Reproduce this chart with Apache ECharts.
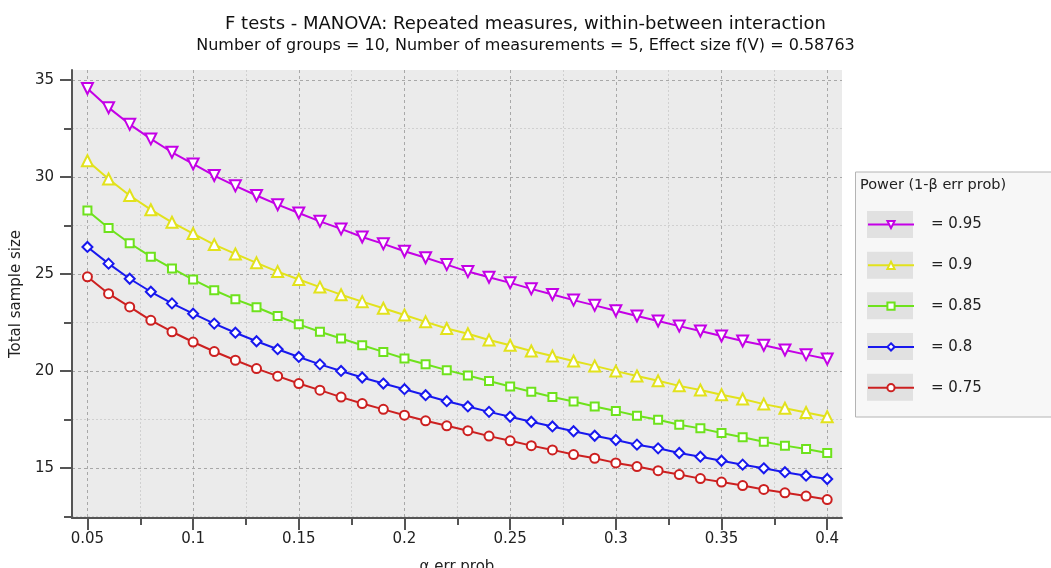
<!DOCTYPE html>
<html>
<head>
<meta charset="utf-8">
<script src="https://cdn.jsdelivr.net/npm/echarts@6/dist/echarts.min.js"></script>
<style>
  html, body { margin: 0; padding: 0; background: #fff; }
  #main { width: 1051px; height: 568px; }
</style>
</head>
<body>
<div id="main"></div>
<script>
// α err prob
var alphas = [0.05, 0.06, 0.07, 0.08, 0.09, 0.10, 0.11, 0.12, 0.13, 0.14, 0.15, 0.16,
  0.17, 0.18, 0.19, 0.20, 0.21, 0.22, 0.23, 0.24, 0.25, 0.26, 0.27, 0.28,
  0.29, 0.30, 0.31, 0.32, 0.33, 0.34, 0.35, 0.36, 0.37, 0.38, 0.39, 0.40];

// Total sample size per power level
var power95 = [34.57, 33.58, 32.72, 31.97, 31.28, 30.68, 30.08, 29.55, 29.05, 28.58, 28.15, 27.72,
  27.33, 26.91, 26.56, 26.18, 25.84, 25.49, 25.13, 24.84, 24.55, 24.24, 23.95, 23.66,
  23.39, 23.11, 22.84, 22.58, 22.32, 22.07, 21.81, 21.55, 21.33, 21.09, 20.85, 20.63];
var power90 = [30.84, 29.90, 29.05, 28.32, 27.67, 27.09, 26.52, 26.04, 25.58, 25.13, 24.72, 24.33,
  23.94, 23.58, 23.24, 22.89, 22.54, 22.20, 21.93, 21.60, 21.33, 21.04, 20.78, 20.52,
  20.27, 20.00, 19.75, 19.50, 19.24, 19.03, 18.78, 18.56, 18.30, 18.09, 17.87, 17.65];
var power85 = [28.28, 27.38, 26.59, 25.90, 25.29, 24.72, 24.17, 23.70, 23.29, 22.84, 22.41, 22.03,
  21.68, 21.33, 20.99, 20.65, 20.35, 20.05, 19.77, 19.49, 19.21, 18.94, 18.67, 18.43,
  18.18, 17.95, 17.70, 17.49, 17.24, 17.05, 16.81, 16.59, 16.36, 16.16, 15.99, 15.78];
var power80 = [26.40, 25.54, 24.76, 24.09, 23.49, 22.96, 22.45, 21.98, 21.54, 21.13, 20.73, 20.35,
  20.01, 19.67, 19.36, 19.07, 18.76, 18.45, 18.18, 17.90, 17.65, 17.39, 17.15, 16.90,
  16.67, 16.45, 16.21, 16.02, 15.78, 15.59, 15.38, 15.18, 14.99, 14.79, 14.61, 14.44];
var power75 = [24.86, 23.99, 23.31, 22.62, 22.03, 21.50, 21.01, 20.56, 20.13, 19.74, 19.36, 19.02,
  18.66, 18.33, 18.03, 17.73, 17.44, 17.18, 16.93, 16.65, 16.41, 16.16, 15.94, 15.70,
  15.51, 15.27, 15.08, 14.87, 14.67, 14.46, 14.28, 14.10, 13.90, 13.73, 13.56, 13.38];

var seriesNames = ['= 0.95', '= 0.9', '= 0.85', '= 0.8', '= 0.75'];
var seriesValues = [power95, power90, power85, power80, power75];

// tick labels
var xMajorTicks = [0.05, 0.1, 0.15, 0.2, 0.25, 0.3, 0.35, 0.4];
var xMinorTicks = [0.075, 0.125, 0.175, 0.225, 0.275, 0.325, 0.375];
var yMajorTicks = [15, 20, 25, 30, 35];
var yMinorTicks = [12.5, 17.5, 22.5, 27.5, 32.5];

var colors = ['#c400e6', '#e2e21c', '#6ee21c', '#1818ee', '#cc2020'];
var symbols = ['emptyTriangle', 'emptyTriangle', 'emptyRect', 'emptyDiamond', 'emptyCircle'];
var symbolSizes = [11, 11, 8, 10, 9];
var symbolRotates = [180, 0, 0, 0, 0];

var FONT = 'DejaVu Sans';

function buildSeries() {
    var s = [];
    for (var i = 0; i < seriesNames.length; i++) {
        var vals = seriesValues[i];
        s.push({
            name: seriesNames[i],
            type: 'line',
            xAxisIndex: 0,
            yAxisIndex: 0,
            data: alphas.map(function (a, k) { return [a, vals[k]]; }),
            symbol: symbols[i],
            symbolSize: symbolSizes[i],
            symbolRotate: symbolRotates[i],
            showAllSymbol: true,
            lineStyle: { color: colors[i], width: 2 },
            itemStyle: { color: colors[i], borderWidth: 2 },
            z: 3 + (seriesNames.length - i)
        });
    }
    return s;
}

var xMin = 0.0427, xMax = 0.407;
var yMin = 12.43, yMax = 35.52;

var axisLabelStyle = { color: '#222', fontSize: 15, fontFamily: FONT };

// legend frame, title and gray boxes behind the legend icons
var legendRowCenters = [224.5, 265.2, 305.8, 346.5, 387.2];
var graphics = [
    {
        type: 'rect', left: 855, top: 171.5, z: 1,
        shape: { width: 220, height: 245 },
        style: { fill: '#f7f7f7', stroke: '#b4b4b4', lineWidth: 1 }
    },
    {
        type: 'text', left: 860, top: 178, z: 2,
        style: { text: 'Power (1-β err prob)', fill: '#222', font: '14.5px ' + FONT }
    }
];
legendRowCenters.forEach(function (c) {
    graphics.push({
        type: 'rect', left: 867, top: c - 13.5, z: 2,
        shape: { width: 46, height: 27 },
        style: { fill: '#e1e1e1' }
    });
});

var option = {
    backgroundColor: '#fff',
    animation: false,
    title: [
        {
            text: 'F tests - MANOVA: Repeated measures, within-between interaction',
            left: 'center', top: 10,
            textStyle: { fontSize: 18, fontWeight: 'normal', color: '#111', fontFamily: FONT }
        },
        {
            text: 'Number of groups = 10, Number of measurements = 5, Effect size f(V) = 0.58763',
            left: 'center', top: 33,
            textStyle: { fontSize: 16, fontWeight: 'normal', color: '#111', fontFamily: FONT }
        }
    ],
    graphic: graphics,
    legend: {
        orient: 'vertical',
        left: 867,
        top: 217,
        padding: 0,
        itemWidth: 46,
        itemHeight: 9,
        itemGap: 25.8,
        z: 5,
        data: seriesNames,
        textStyle: { color: '#222', fontSize: 15, fontFamily: FONT, padding: [0, 0, 0, 12] }
    },
    grid: {
        left: 72, top: 70, width: 770, height: 448,
        outerBoundsMode: 'none',
        containLabel: false,
        show: true, backgroundColor: '#ebebeb', borderWidth: 0
    },
    xAxis: [
        {
            type: 'value', min: xMin, max: xMax,
            name: 'α err prob', nameLocation: 'middle', nameGap: 42,
            nameTextStyle: { color: '#222', fontSize: 15, fontFamily: FONT },
            axisLine: { show: true, onZero: false, lineStyle: { color: '#555', width: 2 } },
            axisTick: { show: true, length: 12, customValues: xMajorTicks, lineStyle: { color: '#555', width: 2 } },
            axisLabel: Object.assign({ margin: 14, customValues: xMajorTicks }, axisLabelStyle),
            splitLine: { show: true, lineStyle: { color: '#a8a8a8', type: [3, 3], width: 1 } }
        },
        {
            type: 'value', min: xMin, max: xMax, position: 'bottom',
            axisLine: { show: false },
            axisTick: { show: true, length: 7, customValues: xMinorTicks, lineStyle: { color: '#555', width: 2 } },
            axisLabel: { show: false },
            splitLine: { show: true, lineStyle: { color: '#d0d0d0', type: [2, 2], width: 1 } }
        }
    ],
    yAxis: [
        {
            type: 'value', min: yMin, max: yMax,
            name: 'Total sample size', nameLocation: 'middle', nameGap: 43,
            nameTextStyle: { color: '#222', fontSize: 15, fontFamily: FONT },
            axisLine: { show: true, onZero: false, lineStyle: { color: '#555', width: 2 } },
            axisTick: { show: true, length: 12, customValues: yMajorTicks, lineStyle: { color: '#555', width: 2 } },
            axisLabel: Object.assign({ margin: 18, customValues: yMajorTicks }, axisLabelStyle),
            splitLine: { show: true, lineStyle: { color: '#a8a8a8', type: [3, 3], width: 1 } }
        },
        {
            type: 'value', min: yMin, max: yMax, position: 'left',
            axisLine: { show: false },
            axisTick: { show: true, length: 8, customValues: yMinorTicks, lineStyle: { color: '#555', width: 2 } },
            axisLabel: { show: false },
            splitLine: { show: true, lineStyle: { color: '#d0d0d0', type: [2, 2], width: 1 } }
        }
    ],
    series: buildSeries()
};

var myChart = echarts.init(document.getElementById('main'), null, { renderer: 'canvas' });
myChart.setOption(option);
window.addEventListener('resize', function () {
    myChart.resize();
});
</script>
</body>
</html>
